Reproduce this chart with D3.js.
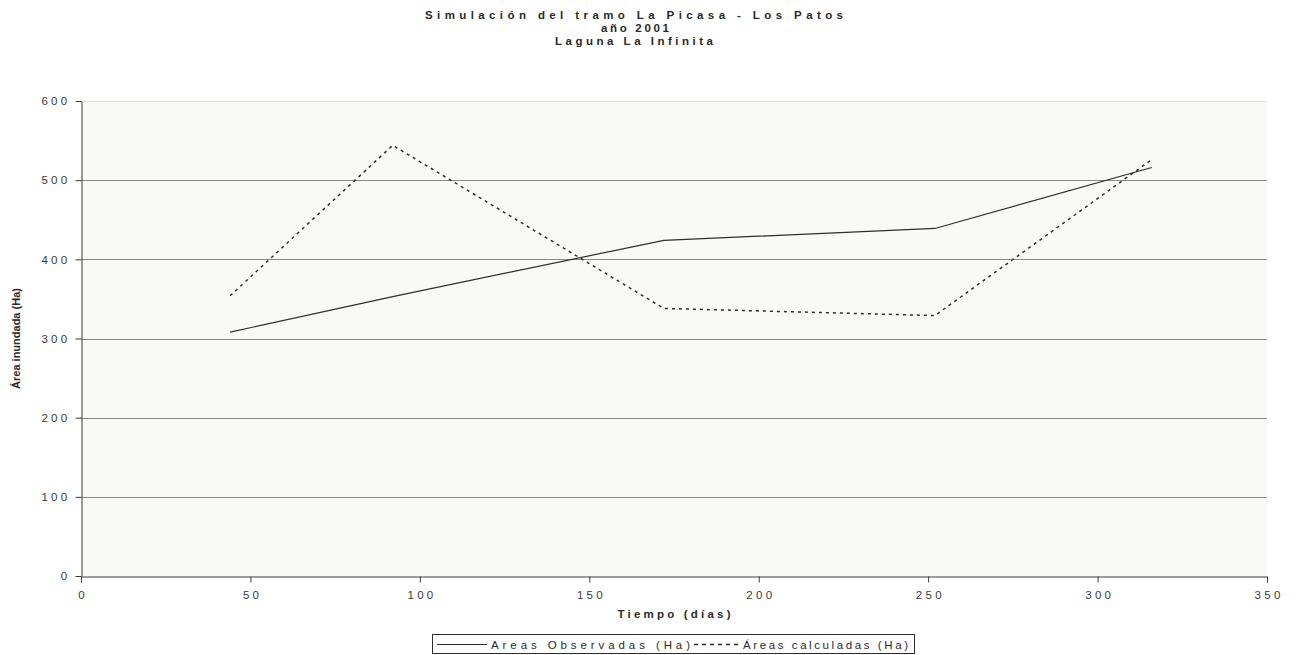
<!DOCTYPE html>
<html>
<head>
<meta charset="utf-8">
<script src="https://cdn.jsdelivr.net/npm/d3@7"></script>
<style>
  html, body { margin: 0; padding: 0; background: #ffffff; }
  svg { display: block; font-family: "Liberation Sans", Arial, sans-serif; }
</style>
</head>
<body>
<svg id="chart" width="1296" height="655"></svg>
<script>
// Días de medición y superficies (Ha) de la laguna
const dias = [44, 92, 172, 252, 316];
const areasObservadas = [308, 353, 424, 439, 516];
const areasCalculadas = [354, 544, 338, 329, 526];

const xTicks = [0, 50, 100, 150, 200, 250, 300, 350];
const yTicks = [0, 100, 200, 300, 400, 500, 600];

const titleLines = ["Simulación del tramo La Picasa - Los Patos", "año 2001", "Laguna La Infinita"];
const xTitle = "Tiempo (días)";
const yTitle = "Área inundada (Ha)";
const seriesNames = ["Areas Observadas (Ha)", "Áreas calculadas (Ha)"];

const svg = d3.select("#chart");
const plot = { left: 81, right: 1267, top: 101, bottom: 576 };

const x = d3.scaleLinear().domain([0, 350]).range([plot.left, plot.right]);
const y = d3.scaleLinear().domain([0, 600]).range([plot.bottom, plot.top]);

const FS = 11.5;  // tamaño de los rótulos
const LS = 3.3;   // espaciado entre letras de los rótulos
const ink = "#2a2a2a";

// Fondo del área de trazado
svg.append("rect")
  .attr("x", plot.left).attr("y", plot.top)
  .attr("width", plot.right - plot.left).attr("height", plot.bottom - plot.top)
  .attr("fill", "#f9f9f7");

// Líneas de división horizontales
svg.append("g").selectAll("line")
  .data(yTicks.filter(d => d > 0))
  .join("line")
  .attr("x1", plot.left).attr("x2", plot.right)
  .attr("y1", d => Math.round(y(d)) + 0.5).attr("y2", d => Math.round(y(d)) + 0.5)
  .attr("stroke", d => d === 600 ? "#dedede" : "#8a8a8a")
  .attr("stroke-width", 1);

// Eje Y
const yAxis = svg.append("g")
  .attr("transform", `translate(${plot.left + 0.5},0)`)
  .call(d3.axisLeft(y).tickValues(yTicks).tickSize(6).tickPadding(5).tickSizeOuter(0));
yAxis.select(".domain").attr("stroke", "#3c3c3c");
yAxis.selectAll(".tick line").attr("stroke", "#3c3c3c");
yAxis.selectAll(".tick text")
  .attr("font-size", FS).attr("fill", "#3a3a3a")
  .style("letter-spacing", LS + "px")
  .attr("font-family", "Liberation Sans, Arial, sans-serif");

// Eje X
const xAxis = svg.append("g")
  .attr("transform", `translate(0,${plot.bottom + 0.5})`)
  .call(d3.axisBottom(x).tickValues(xTicks).tickSize(6).tickPadding(8).tickSizeOuter(0));
xAxis.select(".domain").attr("stroke", "#3c3c3c");
xAxis.selectAll(".tick line").attr("stroke", "#3c3c3c");
xAxis.selectAll(".tick text")
  .attr("font-size", FS).attr("fill", "#3a3a3a")
  .attr("dx", LS / 2)
  .style("letter-spacing", LS + "px")
  .attr("font-family", "Liberation Sans, Arial, sans-serif");

// Series
const line = d3.line().x(d => x(d[0])).y(d => y(d[1]));

svg.append("path")
  .datum(dias.map((d, i) => [d, areasObservadas[i]]))
  .attr("d", line)
  .attr("fill", "none").attr("stroke", "#2e2e2e").attr("stroke-width", 1.2);

svg.append("path")
  .datum(dias.map((d, i) => [d, areasCalculadas[i]]))
  .attr("d", line)
  .attr("fill", "none").attr("stroke", "#2e2e2e").attr("stroke-width", 1.5)
  .attr("stroke-dasharray", "3,4");

// Título (tres renglones, ancho fijo por renglón)
const titleWidths = [418, 68, 158];
const titleCenters = [634, 635, 634];
titleLines.forEach((t, i) => {
  svg.append("text")
    .attr("x", titleCenters[i]).attr("y", 19 + i * 13)
    .attr("text-anchor", "middle")
    .attr("font-size", 11.5).attr("font-weight", "bold").attr("fill", ink)
    .attr("textLength", titleWidths[i]).attr("lengthAdjust", "spacing")
    .text(t);
});

// Título del eje X
svg.append("text")
  .attr("x", (plot.left + plot.right) / 2).attr("y", 618)
  .attr("text-anchor", "middle")
  .attr("font-size", FS).attr("font-weight", "bold").attr("fill", ink)
  .attr("textLength", 113).attr("lengthAdjust", "spacing")
  .text(xTitle);

// Título del eje Y
svg.append("text")
  .attr("transform", `translate(20,${(plot.top + plot.bottom) / 2}) rotate(-90)`)
  .attr("text-anchor", "middle")
  .attr("font-size", 11).attr("font-weight", "bold").attr("fill", ink)
  .text(yTitle);

// Leyenda
const legend = svg.append("g");
legend.append("rect")
  .attr("x", 432.5).attr("y", 634.5).attr("width", 482).attr("height", 19)
  .attr("fill", "#ffffff").attr("stroke", "#2e2e2e").attr("stroke-width", 1);

legend.append("line")
  .attr("x1", 437).attr("x2", 487).attr("y1", 644.5).attr("y2", 644.5)
  .attr("stroke", "#2e2e2e").attr("stroke-width", 1.2);
legend.append("text")
  .attr("x", 491).attr("y", 648.5)
  .attr("font-size", FS).attr("fill", ink)
  .attr("textLength", 199).attr("lengthAdjust", "spacing")
  .text(seriesNames[0]);

legend.append("line")
  .attr("x1", 694).attr("x2", 740).attr("y1", 644.5).attr("y2", 644.5)
  .attr("stroke", "#2e2e2e").attr("stroke-width", 1.5)
  .attr("stroke-dasharray", "4,4");
legend.append("text")
  .attr("x", 743).attr("y", 648.5)
  .attr("font-size", FS).attr("fill", ink)
  .attr("textLength", 165).attr("lengthAdjust", "spacing")
  .text(seriesNames[1]);
</script>
</body>
</html>
